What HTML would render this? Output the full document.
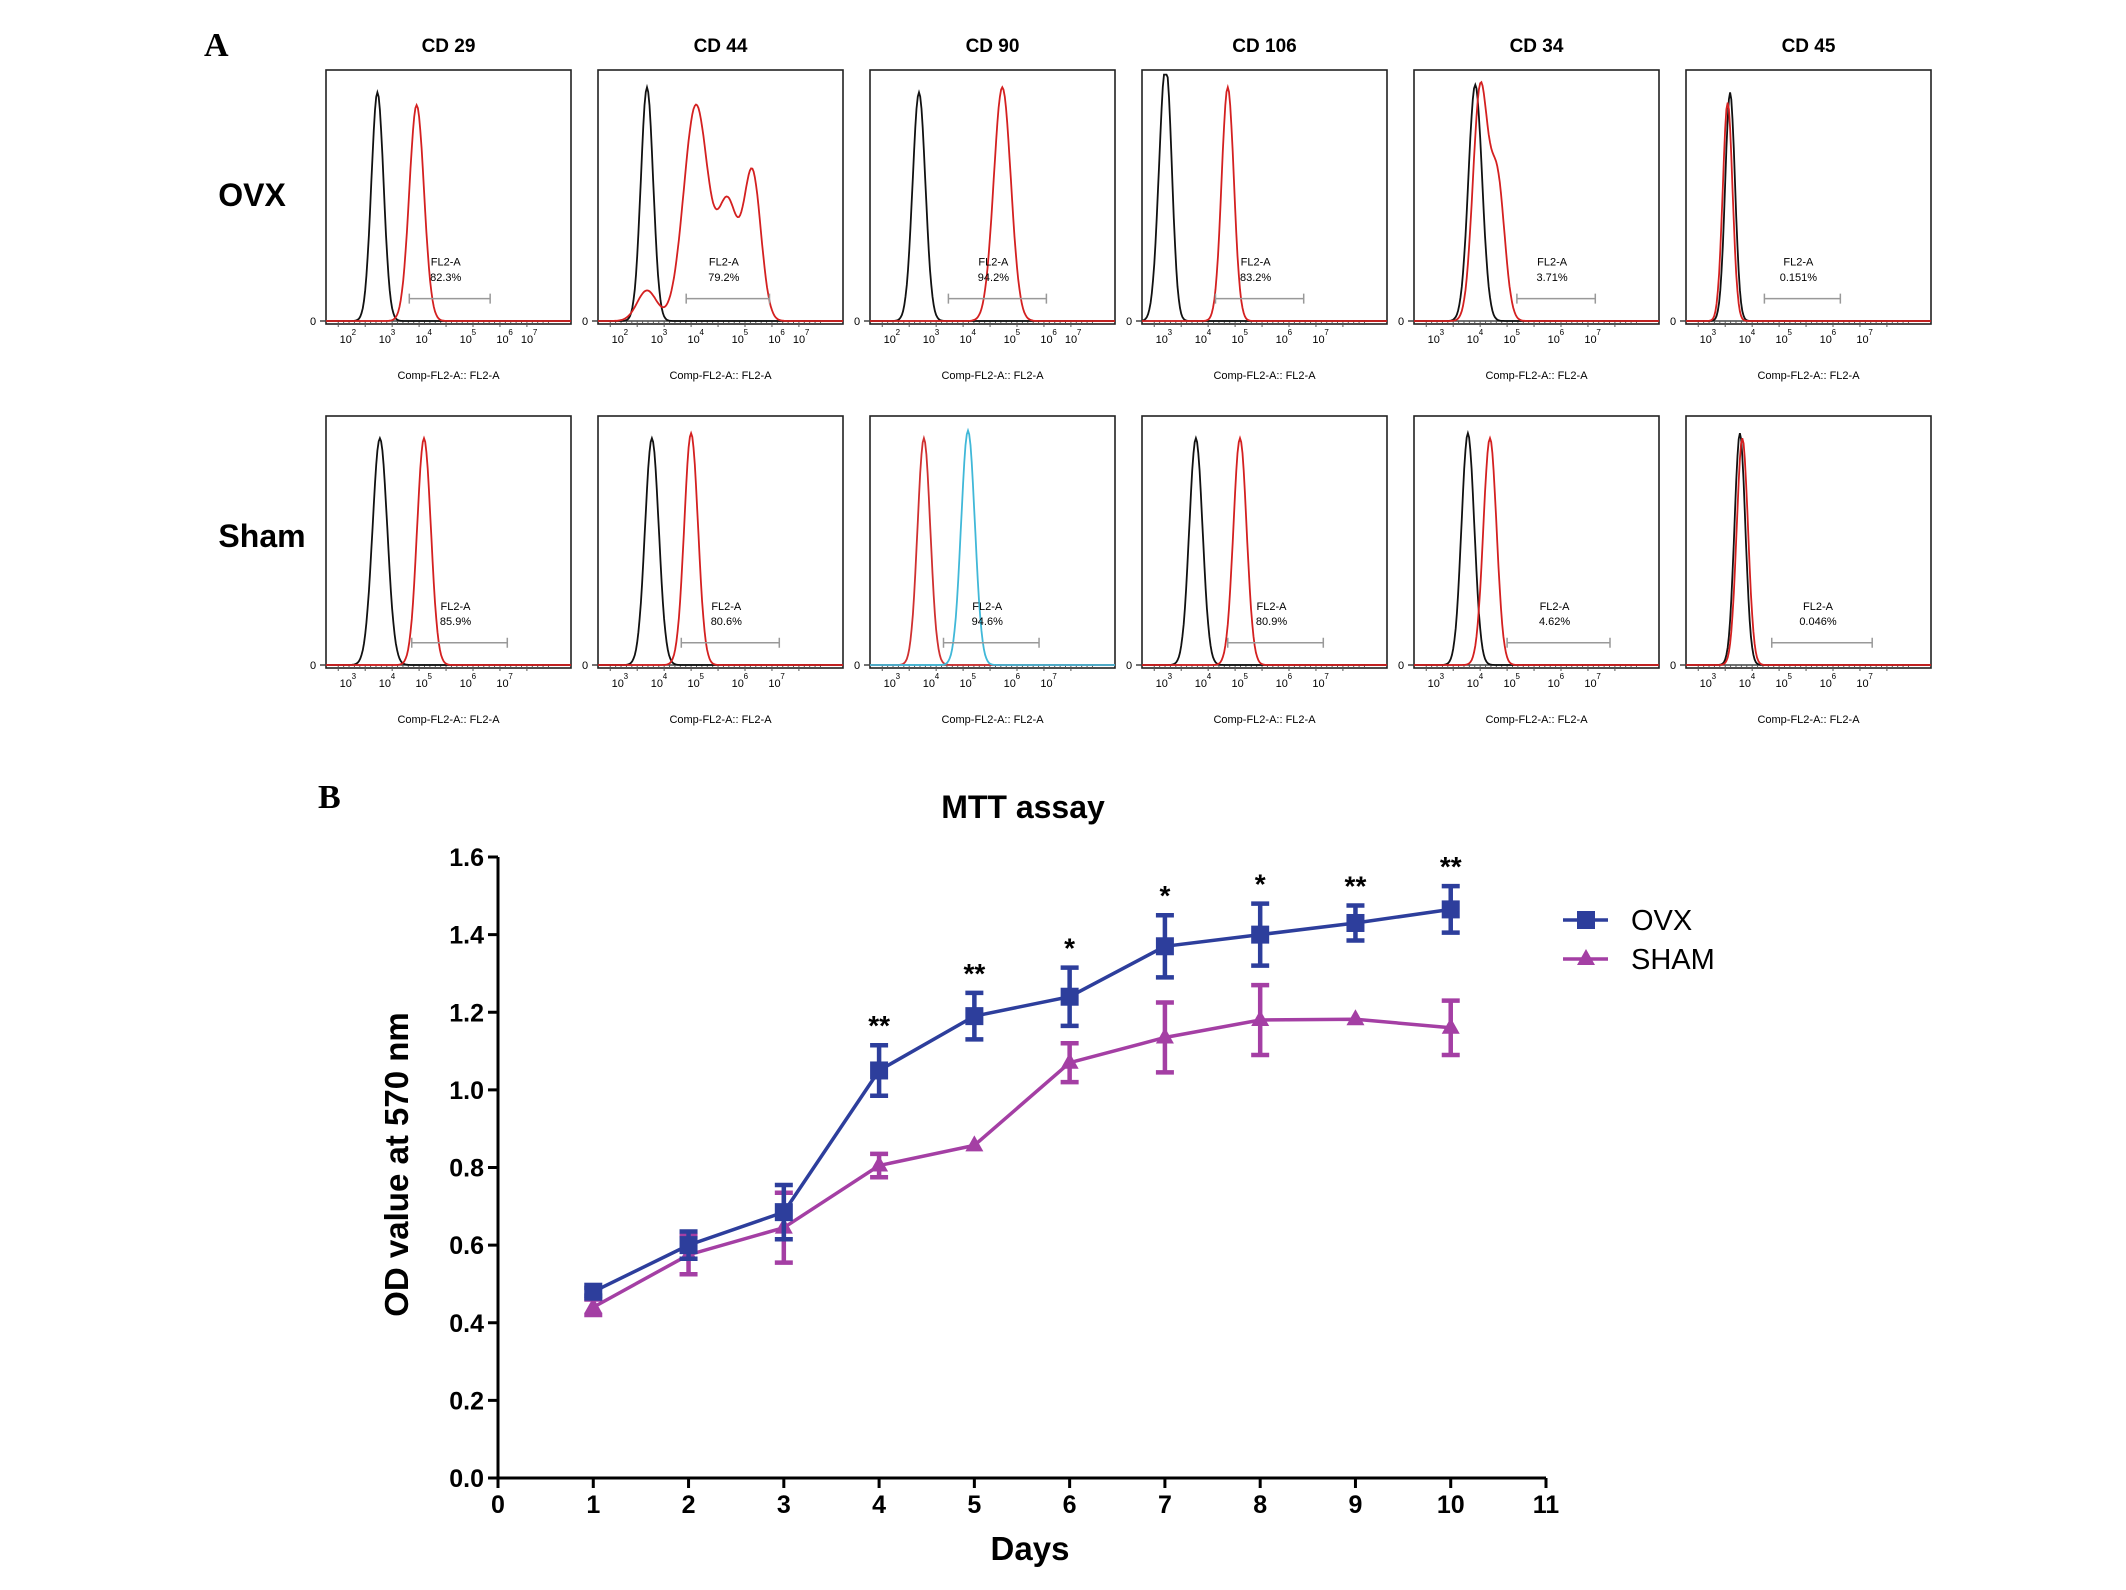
<!DOCTYPE html>
<html><head><meta charset="utf-8"><style>
html,body{margin:0;padding:0;background:#fff;}
svg{display:block;font-family:"Liberation Sans",sans-serif;}
</style></head><body>
<svg id="fig" width="2126" height="1590" viewBox="0 0 2126 1590" xmlns="http://www.w3.org/2000/svg">
<text x="204" y="56" font-family="Liberation Serif" font-weight="bold" font-size="34">A</text>
<text x="318" y="808" font-family="Liberation Serif" font-weight="bold" font-size="34">B</text>
<text x="252" y="206" text-anchor="middle" font-weight="bold" font-size="32">OVX</text>
<text x="262" y="547" text-anchor="middle" font-weight="bold" font-size="32">Sham</text>
<g id="flow"></g>
<g id="chart"></g>
</svg>
<script>
// ---------- Flow cytometry panels ----------
const markers = ["CD 29","CD 44","CD 90","CD 106","CD 34","CD 45"];
const ovxPct = ["82.3%","79.2%","94.2%","83.2%","3.71%","0.151%"];
const shamPct = ["85.9%","80.6%","94.6%","80.9%","4.62%","0.046%"];
// peaks: [center fraction, width fraction, height fraction]
const ovxControl = [[[0.21,0.025,0.9]],[[0.2,0.025,0.92]],[[0.2,0.026,0.9]],[[0.09,0.025,0.8],[0.11,0.02,0.3]],[[0.25,0.028,0.93]],[[0.18,0.02,0.9]]];
const ovxStain = [[[0.37,0.03,0.85]],[[0.2,0.04,0.12],[0.4,0.05,0.85],[0.53,0.04,0.45],[0.63,0.035,0.58]],[[0.54,0.035,0.92]],[[0.35,0.025,0.92]],[[0.27,0.03,0.9],[0.34,0.03,0.55]],[[0.17,0.02,0.86]]];
const shamControl = [[[0.22,0.03,0.9]],[[0.22,0.028,0.9]],[[0.22,0.026,0.9]],[[0.22,0.027,0.9]],[[0.22,0.026,0.92]],[[0.22,0.022,0.92]]];
const shamStain = [[[0.4,0.028,0.9]],[[0.38,0.028,0.92]],[[0.4,0.028,0.93]],[[0.4,0.027,0.9]],[[0.31,0.027,0.9]],[[0.23,0.023,0.9]]];
const ovxGate = [[0.34,0.67],[0.36,0.7],[0.32,0.72],[0.3,0.66],[0.42,0.74],[0.32,0.63]];
const shamGate = [[0.35,0.74],[0.34,0.74],[0.3,0.69],[0.35,0.74],[0.38,0.8],[0.35,0.76]];
const tickFrac = [0.08,0.24,0.39,0.57,0.72,0.82];
const tickExpA = ["2","3","4","5","6","7"];
const tickExpB = ["3","4","5","6","7",""];
const NS="http://www.w3.org/2000/svg";
const flow=document.getElementById('flow');
function mk(tag,attrs,parent){const e=document.createElementNS(NS,tag);for(const k in attrs)e.setAttribute(k,attrs[k]);parent.appendChild(e);return e;}
const colX0=326, colStep=272, boxW=245;
const rows=[{y:70,h:254,ctrl:ovxControl,stain:ovxStain,pct:ovxPct,gate:ovxGate,name:'ovx'},{y:416,h:252,ctrl:shamControl,stain:shamStain,pct:shamPct,gate:shamGate,name:'sham'}];
rows.forEach((r,ri)=>{
  markers.forEach((m,ci)=>{
    const x0=colX0+ci*colStep, y0=r.y, h=r.h, base=y0+h-3;
    const g=mk('g',{},flow);
    
    
    if(ri===0){const t=mk('text',{x:x0+boxW/2,y:52,'text-anchor':'middle','font-weight':'bold','font-size':19},g);t.textContent=m;
      
      }
    const box=mk('rect',{x:x0,y:y0,width:boxW,height:h,fill:'none',stroke:'#222','stroke-width':1.6},g);
    
    
    const z=mk('text',{x:x0-16,y:base+4,'font-size':11},g);z.textContent='0';
    
    
    const ax=mk('line',{x1:x0-6,y1:base,x2:x0+boxW,y2:base,stroke:'#444','stroke-width':1.5},g);
    
    
    const exps=(ri===0&&ci<3)?tickExpA:tickExpB;
    tickFrac.forEach((f,k)=>{ if(!exps[k])return;
      const tx=x0+f*boxW;
      const tl=mk('text',{x:tx-6,y:base+22,'font-size':11},g);tl.textContent='10';
      
      
      const te=mk('text',{x:tx+6,y:base+14,'font-size':8},g);te.textContent=exps[k];
      
      
    });
    for(let k=0;k<40;k++){const tx=x0+0.05*boxW+k*boxW*0.022;mk('line',{x1:tx,y1:base,x2:tx,y2:base+(k%5===0?6:3),stroke:'#555','stroke-width':1},g);}
    const xl=mk('text',{x:x0+boxW/2,y:y0+h+55,'text-anchor':'middle','font-size':11},g);xl.textContent='Comp-FL2-A:: FL2-A';
    
    
    function curve(peaks,color,nm){
      let d='';
      for(let i=0;i<=200;i++){const f=i/200;let v=0;peaks.forEach(p=>{v+=p[2]*Math.exp(-Math.pow((f-p[0])/p[1],2)/2);});
        d+=(i?'L':'M')+(x0+f*boxW).toFixed(1)+','+(base-Math.min(v,0.97)*h).toFixed(1);}
      const p=mk('path',{d:d,fill:'none',stroke:color,'stroke-width':1.8},g);
      
      
    }
    const isCyan=(ri===1&&ci===2);
    curve(r.ctrl[ci],isCyan?'#d03030':'#111','control-curve');
    curve(r.stain[ci],isCyan?'#40b8d8':'#d42020','stained-curve');
    const ga=r.gate[ci], gy=y0+h*0.9;
    const gl=mk('path',{d:`M${x0+ga[0]*boxW},${gy-5}V${gy+5}M${x0+ga[0]*boxW},${gy}H${x0+ga[1]*boxW}M${x0+ga[1]*boxW},${gy-5}V${gy+5}`,stroke:'#999','stroke-width':1.5,fill:'none'},g);
    
    
    const cx=x0+(ga[0]+ga[1])/2*boxW-4;
    const t1=mk('text',{x:cx,y:y0+h*0.77,'text-anchor':'middle','font-size':11},g);t1.textContent='FL2-A';
    
    
    const t2=mk('text',{x:cx,y:y0+h*0.83,'text-anchor':'middle','font-size':11},g);t2.textContent=r.pct[ci];
    
    
  });
});

// ---------- MTT line chart ----------
const days = [1,2,3,4,5,6,7,8,9,10];
const ovx = [0.48,0.60,0.685,1.05,1.19,1.24,1.37,1.40,1.43,1.465];
const ovxErr = [0.01,0.035,0.07,0.065,0.06,0.075,0.08,0.08,0.045,0.06];
const sham = [0.44,0.575,0.645,0.805,0.857,1.07,1.135,1.18,1.182,1.16];
const shamErr = [0.02,0.05,0.09,0.03,0,0.05,0.09,0.09,0,0.07];
const stars = ["","","","**","**","*","*","*","**","**"];
const xTicks = [0,1,2,3,4,5,6,7,8,9,10,11];
const yTicks = [0.0,0.2,0.4,0.6,0.8,1.0,1.2,1.4,1.6];
const ch=document.getElementById('chart');
const L=498,R=1546,T=857,B=1478;
const X=v=>L+(v/11)*(R-L);
const Y=v=>B-(v/1.6)*(B-T);
let e;
e=mk('text',{x:1023,y:818,'text-anchor':'middle','font-weight':'bold','font-size':32},ch);e.textContent='MTT assay';


e=mk('path',{d:`M${L},${T}V${B}H${R}`,stroke:'#000','stroke-width':3,fill:'none'},ch);


yTicks.forEach(v=>{
  const l=mk('line',{x1:L-10,y1:Y(v),x2:L,y2:Y(v),stroke:'#000','stroke-width':3},ch);
  
  
  const t=mk('text',{x:L-14,y:Y(v)+9,'text-anchor':'end','font-weight':'bold','font-size':25},ch);t.textContent=v.toFixed(1);
  
  
});
xTicks.forEach(v=>{
  const l=mk('line',{x1:X(v),y1:B,x2:X(v),y2:B+10,stroke:'#000','stroke-width':3},ch);
  
  
  const t=mk('text',{x:X(v),y:B+35,'text-anchor':'middle','font-weight':'bold','font-size':25},ch);t.textContent=v;
  
  
});
e=mk('text',{x:1030,y:1560,'text-anchor':'middle','font-weight':'bold','font-size':33},ch);e.textContent='Days';


e=mk('text',{x:0,y:0,'text-anchor':'middle','font-weight':'bold','font-size':33,transform:`translate(408,${(T+B)/2-3}) rotate(-90)`},ch);e.textContent='OD value at 570 nm';


function series(vals,errs,color,marker,nm){
  const g=mk('g',{},ch);
  
  
  const ln=mk('path',{d:vals.map((v,i)=>(i?'L':'M')+X(days[i])+','+Y(v)).join(''),stroke:color,'stroke-width':3.5,fill:'none'},g);
  
  
  vals.forEach((v,i)=>{
    const x=X(days[i]);
    if(errs[i]>0){
      const eb=mk('path',{d:`M${x},${Y(v+errs[i])}V${Y(v-errs[i])}M${x-9},${Y(v+errs[i])}H${x+9}M${x-9},${Y(v-errs[i])}H${x+9}`,stroke:color,'stroke-width':4.5,fill:'none'},g);
      
      
    }
    let mkr;
    if(marker==='sq') mkr=mk('rect',{x:x-9,y:Y(v)-9,width:18,height:18,fill:color},g);
    else mkr=mk('path',{d:`M${x},${Y(v)-10}L${x+9},${Y(v)+6}L${x-9},${Y(v)+6}Z`,fill:color},g);
    
    
  });
}
series(sham,shamErr,'#a43fa4','tri','sham');
series(ovx,ovxErr,'#2d3e9c','sq','ovx');
stars.forEach((s,i)=>{ if(!s)return;
  const t=mk('text',{x:X(days[i]),y:Y(ovx[i]+ovxErr[i])-10,'text-anchor':'middle','font-weight':'bold','font-size':28},ch);t.textContent=s;
  
  
});
// legend
const lg=mk('g',{},ch);


[['OVX','#2d3e9c','sq',920],['SHAM','#a43fa4','tri',959]].forEach(([lab,col,m,y])=>{
  const l=mk('line',{x1:1563,y1:y,x2:1608,y2:y,stroke:col,'stroke-width':3.5},lg);
  
  
  let mm; if(m==='sq') mm=mk('rect',{x:1577,y:y-9,width:18,height:18,fill:col},lg);
  else mm=mk('path',{d:`M1586,${y-10}L1595,${y+6}L1577,${y+6}Z`,fill:col},lg);
  
  
  const t=mk('text',{x:1631,y:y+10,'font-size':29},lg);t.textContent=lab;
  
  
});
</script>
</body></html>
